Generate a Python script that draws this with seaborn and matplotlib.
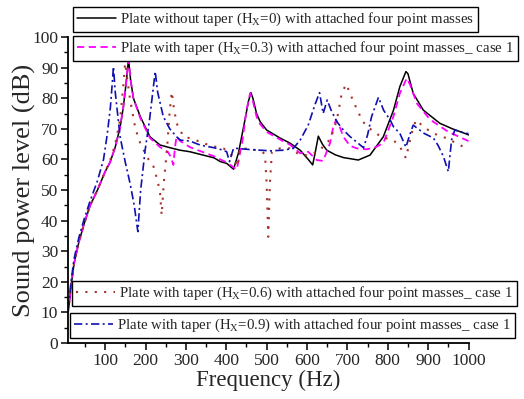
import matplotlib
matplotlib.use('Agg')
import matplotlib.pyplot as plt
import seaborn as sns
from matplotlib.ticker import MultipleLocator

# ---------------- data ----------------
f_h0 = [8, 11, 15, 23, 35, 48, 63, 81, 100, 112, 125, 137, 145, 152, 158, 163, 170, 187, 211, 236,
        261, 286, 310, 340, 370, 385, 401, 418, 430, 445, 455, 461, 466, 475, 484, 500, 533, 558,
        583, 603, 614, 620, 628, 638, 649, 670, 690, 727, 756, 789, 814, 830, 845, 850, 863, 888,
        929, 960, 995, 1000]
spl_h0 = [10, 13, 18, 26, 33, 39, 45, 50, 56, 59, 64, 70.5, 77, 85, 92.8, 86, 80, 74, 67.4, 64.7,
          63.8, 63, 62.5, 61.5, 60.5, 59.3, 58.7, 56.8, 62, 72, 79, 81.8, 80, 75, 72.3, 69.6, 67,
          65.3, 63, 60, 58.2, 62, 67.6, 65, 63, 61.5, 60.6, 59.8, 61.4, 67.4, 76, 83.8, 88.7, 88,
          81.6, 76.1, 71.8, 70, 68.3, 68]

f_h3 = [8, 11, 15, 23, 35, 48, 63, 81, 100, 112, 125, 137, 145, 152, 158, 163, 170, 187, 211, 236,
        255, 262, 269, 273, 277, 286, 310, 340, 370, 401, 426, 440, 450, 459, 466, 475, 484, 500,
        533, 558, 583, 603, 624, 640, 657, 665, 672, 680, 690, 706, 723, 748, 770, 789, 814, 830,
        847, 855, 872, 905, 950, 995, 1000]
spl_h3 = [10, 13, 18, 26, 33, 39, 45, 50, 56, 59, 64, 70.5, 77, 85, 92.5, 86, 80, 73.5, 67, 64,
          62.5, 61, 58.2, 64, 67.5, 66, 64, 62.5, 61, 59, 56.7, 66, 76, 81.6, 79, 74, 71.5, 69,
          66.5, 64.8, 62, 62.5, 59.8, 59.5, 65.3, 70.7, 72.9, 71, 67.4, 64.5, 63.6, 63.3, 64, 65.3,
          74, 81.6, 86.5, 84.5, 78.3, 73, 69, 66.3, 66]

f_h6 = [8, 11, 15, 23, 35, 48, 63, 81, 100, 112, 125, 137, 145, 149.5, 155, 162, 175, 187, 205,
        220, 230, 236, 240, 245, 253, 260, 265, 270, 277, 294, 310, 335, 360, 393, 410, 420, 428,
        434, 450, 476, 490, 496, 500, 504, 508, 513, 533, 558, 583, 607, 633, 645, 657, 674, 686,
        697, 715, 736, 748, 773, 781, 814, 830, 845, 859, 870, 890, 913, 946, 995, 1000]
spl_h6 = [10, 13, 18, 26, 33, 39, 45, 50, 56, 59.5, 65, 73, 84, 91.5, 86, 79.4, 70, 65.3, 60.5,
          57.6, 53, 49, 41.8, 52, 63, 76, 82.1, 77, 71.8, 67.5, 66.9, 65.8, 64.5, 63.6, 62, 60,
          57.6, 63.6, 63.5, 63, 62.5, 61.4, 52, 34.7, 52, 62.5, 63.6, 63.6, 61.4, 61.4, 63, 65.3,
          66.3, 72.9, 81.6, 84.6, 78.9, 72.9, 70.7, 68.5, 67.4, 66.3, 64.2, 60.4, 68.5, 72.9, 70.5,
          68.5, 66.9, 63.6, 63.5]

f_h9 = [8, 11, 15, 23, 35, 48, 63, 81, 96, 105, 113, 118, 120.6, 125, 137, 150, 162, 172, 181,
        188, 199, 210, 218, 224, 230, 244, 260, 277, 286, 310, 335, 370, 393, 401, 408, 413, 418,
        426, 460, 510, 540, 566, 583, 603, 620, 631, 640, 650, 660, 674, 690, 707, 740, 750, 760,
        777, 790, 806, 814, 830, 845, 852, 863, 890, 913, 925, 938, 950, 958, 966, 980, 995, 1000]
spl_h9 = [11, 14, 19.5, 27.5, 34.5, 40.5, 46.5, 53, 60, 68, 77, 85.5, 90.3, 82, 67.4, 59, 52, 45,
          36.4, 50, 63, 73, 82, 88.7, 82, 74, 70, 67.4, 66.3, 66, 64.7, 63.8, 63, 62.5, 59.3, 61.5,
          63.6, 63.6, 63.2, 62.8, 63, 63.6, 66.3, 71.2, 78, 81.8, 75, 79.4, 76, 72.3, 69.6, 67.4,
          63.8, 68, 74, 80.3, 76, 72.9, 70.7, 68.5, 64, 67, 71.2, 68.5, 67, 64.5, 60.9, 56, 66.3,
          69.6, 69, 68.5, 68.4]

labels = [
    'Plate without taper (H$_\\mathrm{X}$=0) with attached four point masses',
    'Plate with taper (H$_\\mathrm{X}$=0.3) with attached four point masses_ case 1',
    'Plate with taper (H$_\\mathrm{X}$=0.6) with attached four point masses_ case 1',
    'Plate with taper (H$_\\mathrm{X}$=0.9) with attached four point masses_ case 1',
]
x_ticks = [100, 200, 300, 400, 500, 600, 700, 800, 900, 1000]
y_ticks = [0, 10, 20, 30, 40, 50, 60, 70, 80, 90, 100]

# ---------------- style ----------------
sns.set_style('ticks')
plt.rcParams['font.family'] = ['Liberation Serif', 'DejaVu Serif']
plt.rcParams['mathtext.fontset'] = 'custom'
plt.rcParams['mathtext.rm'] = 'Liberation Serif'
plt.rcParams['mathtext.it'] = 'Liberation Serif:italic'

W, H = 524, 399
fig = plt.figure(figsize=(W / 100, H / 100), dpi=100)
ax = fig.add_axes([68 / W, 56 / H, 400.5 / W, 306 / H])

styles = [
    dict(color='#000000', linestyle='-', linewidth=1.1),
    dict(color='#ff00ff', linestyle=(0, (4, 2.5)), linewidth=1.3),
    dict(color='#a8322c', linestyle=(0, (1, 3.5)), linewidth=1.5),
    dict(color='#1010b0', linestyle=(0, (5, 2, 1.2, 2)), linewidth=1.2),
]
series = [(f_h0, spl_h0), (f_h3, spl_h3), (f_h6, spl_h6), (f_h9, spl_h9)]
for (fx, fy), st, lab in zip(series, styles, labels):
    sns.lineplot(x=fx, y=fy, ax=ax, sort=False, estimator=None, label=lab, **st)

handles = ax.get_lines()[:4]
if ax.get_legend() is not None:
    ax.get_legend().remove()

ax.set_xlim(8, 1000)
ax.set_ylim(0, 100)
ax.set_xticks(x_ticks)
ax.set_yticks(y_ticks)
ax.xaxis.set_minor_locator(MultipleLocator(50))
ax.yaxis.set_minor_locator(MultipleLocator(5))
ax.tick_params(which='major', direction='out', length=5, width=1.1, labelsize=12.5, color='black',
               pad=2)
ax.tick_params(which='minor', direction='out', length=3, width=1.0, color='black')
for s in ['top', 'right']:
    ax.spines[s].set_visible(False)
for s in ['left', 'bottom']:
    ax.spines[s].set_linewidth(1.3)
    ax.spines[s].set_color('black')

ax.set_xlabel('Frequency (Hz)', fontsize=16.5, labelpad=1)
ax.set_ylabel('Sound power level (dB)', fontsize=19, labelpad=-3)

# ---------------- legends (four separate boxes) ----------------
boxes = [(73, 7), (73, 36), (72, 281), (70, 313)]
for h, lab, (bx, by) in zip(handles, labels, boxes):
    lg = fig.legend(handles=[h], labels=[lab], loc='upper left',
                    bbox_to_anchor=(bx / W, 1 - by / H), bbox_transform=fig.transFigure,
                    borderaxespad=0, frameon=True, fancybox=False, framealpha=1,
                    edgecolor='black', fontsize=10.75, handlelength=2.6, handletextpad=0.3,
                    borderpad=0.25, facecolor='white')
    lg.get_frame().set_linewidth(1.0)

fig.savefig('out.png', dpi=100)
